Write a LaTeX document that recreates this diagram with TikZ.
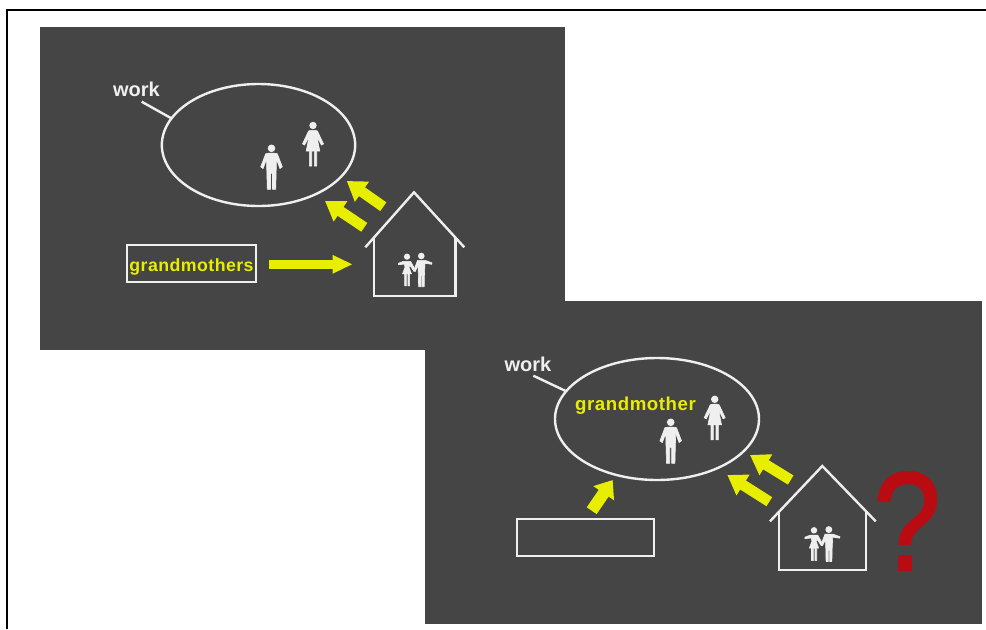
\documentclass[tikz,border=0pt]{standalone}
\usepackage{fontspec}
\setmainfont{Liberation Sans}
\newfontfamily\questfont[FakeBold=1.6,FakeStretch=0.86]{Liberation Sans}
\usetikzlibrary{shapes.geometric,arrows.meta}
\definecolor{panelgray}{HTML}{454545}
\definecolor{chalk}{HTML}{EFEFEF}
\definecolor{lemon}{HTML}{E8EE00}
\definecolor{quest}{HTML}{B90C12}
\tikzset{
  panel/.style={fill=panelgray,draw=none},
  chalkline/.style={draw=chalk,line width=1.8pt,line cap=butt,line join=miter},
  ringnode/.style={shape=ellipse,draw=chalk,line width=1.8pt,inner sep=0pt,outer sep=0pt},
  boxnode/.style={shape=rectangle,draw=chalk,line width=1.8pt,inner sep=0pt,outer sep=0pt,font=\bfseries\fontsize{13.3pt}{16pt}\selectfont\addfontfeature{LetterSpace=2.5},text=lemon},
  worklabel/.style={font=\bfseries\fontsize{15pt}{16pt}\selectfont,text=chalk,inner sep=0pt},
  grandlabel/.style={font=\bfseries\fontsize{14pt}{16pt}\selectfont\addfontfeature{LetterSpace=3},text=lemon,inner sep=0pt},
  blockarrow/.style={draw=lemon,line width=8pt,-{Triangle[length=14pt,width=17.5pt,fill=lemon]}},
  stubarrow/.style={draw=lemon,line width=9pt,-{Triangle[length=12pt,width=18pt,fill=lemon]}},
  flatarrow/.style={draw=lemon,line width=6.8pt,-{Triangle[length=15pt,width=12.8pt,fill=lemon]}},
  figfill/.style={fill=chalk,draw=chalk,line width=0.45pt,line join=round},
  pics/manfig/.style={code={
    \fill[chalk] (0,0) circle[radius=3.8];
    \path[figfill] (-2.5,4.8)--(2.5,4.8)--(5.8,5.4)--(10.8,18.5)--(8.4,20.3)--(5,11)--(4.2,41)--(1,41)--(1,25)--(-1,25)--(-1,41)--(-4.2,41)--(-5,11)--(-8.4,20.3)--(-10.8,18.5)--(-5.8,5.4)--cycle;
  }},
  pics/womanfig/.style={code={
    \fill[chalk] (0,0) circle[radius=3.7];
    \path[figfill] (-2.5,4.8)--(2.5,4.8)--(4.5,5.6)--(10.5,18.4)--(8.4,19.6)--(3.8,10.5)--(6.8,25.5)--(3.7,25.5)--(3.7,40.5)--(1.3,40.5)--(1.3,25.5)--(-1.3,25.5)--(-1.3,40.5)--(-3.7,40.5)--(-3.7,25.5)--(-6.8,25.5)--(-3.8,10.5)--(-8.4,19.6)--(-10.5,18.4)--(-4.5,5.6)--cycle;
  }},
  pics/couplefig/.style={code={
    % woman
    \fill[chalk] (0,0) circle[radius=3.1];
    \path[figfill] (-3.4,4.6)--(3.6,4.6)--(8.3,13.2)--(7,14.8)--(2.8,8.6)--(2,10.5)--(4.5,17.2)--(2.6,17.2)--(2.6,29.2)--(0.8,29.2)--(0.8,17.2)--(-0.6,17.2)--(-0.6,29.2)--(-2.4,29.2)--(-2.4,17.2)--(-4.5,17.2)--(-2,10.5)--(-2.6,7.4)--(-8.7,8)--(-8.7,6.6)--cycle;
    % man
    \fill[chalk] (14.3,-0.7) circle[radius=3.3];
    \path[figfill] (10.6,3.6)--(18,3.6)--(25,6.1)--(24.7,7.6)--(18,6.6)--(17.4,19)--(17.2,30)--(15,30)--(15,19)--(13.8,19)--(13.8,30)--(11.6,30)--(11.4,19)--(11,9)--(8.2,14.8)--(6.6,14)--cycle;
  }}
}
\begin{document}
\begin{tikzpicture}[x=0.75pt,y=-0.75pt]
\useasboundingbox (0,0) rectangle (986,629);
\fill[white] (0,0) rectangle (986,629);
% frame
\draw[black,line width=1.5pt] (7,629) -- (7,10) -- (986,10);
% panels
\fill[panel] (40,27) rectangle (565,350);
\fill[panel] (425,301) rectangle (982,624);
% --- panel one
\node[ringnode,minimum width=145pt,minimum height=91.5pt] (ringA) at (258.5,145) {};
\node[worklabel] (workA) at (136.5,89) {work};
\coordinate (leadA) at (141.7,101.7);
\draw[chalkline] (leadA) -- (ringA.163);
\pic at (271.5,148.3) {manfig};
\pic at (313,125.5) {womanfig};
\node[boxnode,minimum width=96.75pt,minimum height=27.75pt] (boxA) at (191.5,263.5) {\raisebox{-6pt}[0pt][0pt]{grandmothers}};
\draw[chalkline] (365.3,247.3) -- (414,192.3) -- (464.3,247.3);
\draw[chalkline] (374,237.5) -- (374,296) -- (455.3,296) -- (455.3,237.5);
\pic at (407,256.7) {couplefig};
\coordinate (a1s) at (383.3,206.7); \coordinate (a1e) at (346.7,181);
\coordinate (a2s) at (364.3,227.3); \coordinate (a2e) at (325,201);
\coordinate (a3s) at (269.3,264.3); \coordinate (a3e) at (352.7,264.3);
\draw[blockarrow] (a1s) -- (a1e);
\draw[blockarrow] (a2s) -- (a2e);
\draw[flatarrow] (a3s) -- (a3e);
% --- panel two
\node[ringnode,minimum width=153pt,minimum height=91.5pt] (ringB) at (657,419) {};
\node[worklabel] (workB) at (528,364) {work};
\coordinate (leadB) at (533.3,375.7);
\draw[chalkline] (leadB) -- (ringB.163);
\node[grandlabel] (grandB) at (635.5,406) {grandmother};
\pic at (670.7,422.3) {manfig};
\pic at (714.7,399.3) {womanfig};
\node[boxnode,minimum width=102.75pt,minimum height=27.75pt] (boxB) at (585.5,537.5) {};
\draw[chalkline] (770,521.3) -- (822.3,466) -- (875.7,521.3);
\draw[chalkline] (779,511.8) -- (779,570) -- (866,570) -- (866,511.8);
\pic[scale=1.04] at (814,530.3) {couplefig};
\coordinate (a4s) at (790.7,480); \coordinate (a4e) at (750,455);
\coordinate (a5s) at (769.3,501.7); \coordinate (a5e) at (727.3,475);
\coordinate (a6s) at (591.7,510.7); \coordinate (a6e) at (612.7,480);
\draw[blockarrow] (a4s) -- (a4e);
\draw[blockarrow] (a5s) -- (a5e);
\draw[stubarrow] (a6s) -- (a6e);
\node[text=quest,inner sep=0pt,font=\questfont\fontsize{105pt}{110pt}\selectfont] (quest) at (907,521) {?};
\end{tikzpicture}
\end{document}
